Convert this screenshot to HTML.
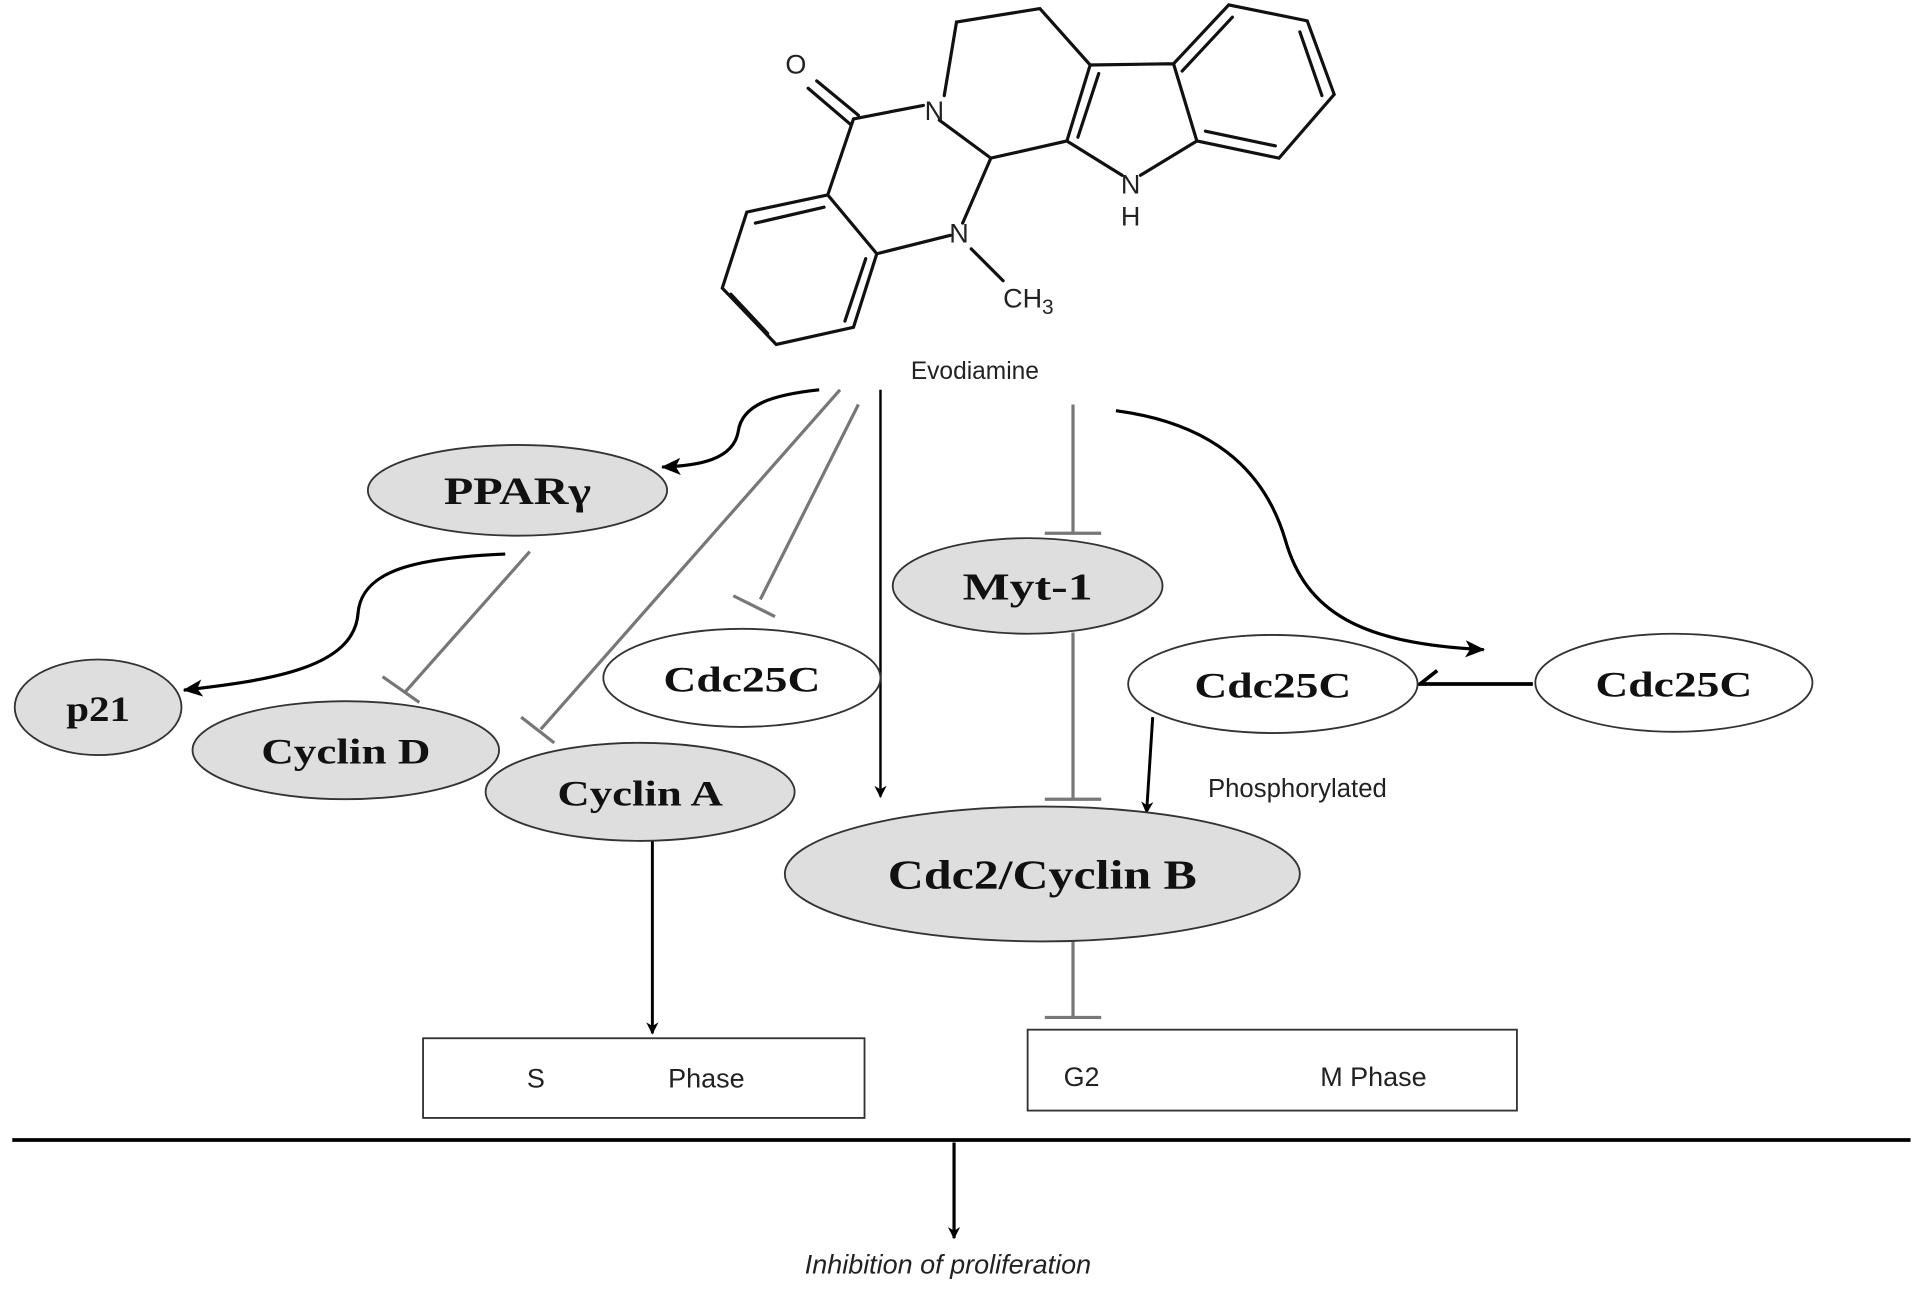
<!DOCTYPE html>
<html><head><meta charset="utf-8"><style>
html,body{margin:0;padding:0;background:#fff;}
svg{display:block;}
.n{font-family:"Liberation Serif",serif;font-weight:bold;fill:#111;}
.s{font-family:"Liberation Sans",sans-serif;fill:#222;}
</style></head><body>
<svg width="1913" height="1292" viewBox="0 0 1560 1054" preserveAspectRatio="none" xmlns="http://www.w3.org/2000/svg">
<defs>
<marker id="a" markerWidth="10" markerHeight="10" refX="9" refY="5" orient="auto" markerUnits="userSpaceOnUse"><path d="M0,0 L10,5 L0,10 L3,5 Z" fill="#000"/></marker>
<marker id="b" markerWidth="16" markerHeight="14" refX="15" refY="7" orient="auto" markerUnits="userSpaceOnUse"><path d="M0,0 L16,7 L0,14 L4,7 Z" fill="#000"/></marker>
</defs>
<!-- molecule -->
<g stroke="#111" stroke-width="2.6" fill="none" stroke-linecap="round">
<path d="M696,97 L753,86 M766,98 L808,129 M770,78 L780,18 L848,7 L889,53 L957,52 M889,53 L870,115 L808,129 L785,182 M870,115 L915,143 M930,143 L976,115 L957,52 L1002,4 L1066,17 L1088,77 L1043,129 L976,115 M696,97 L675,159 L715,207 L775,192 M715,207 L696,267 L633,281 L589,235 L609,173 L675,159 M792,203 L818,229"/>
<path d="M896,60 L879,112 M964,58 L1005,14 M1060,26 L1078,78 M1040,119 L983,107 M672,169 L616,182 M706,211 L689,262 M626,272 L596,240"/>
<path d="M700,94 L666,66 M693,101 L659,72"/>
</g>
<g class="s" font-size="22">
<text x="649" y="60" text-anchor="middle">O</text>
<text x="762" y="98" text-anchor="middle">N</text>
<text x="922" y="158" text-anchor="middle">N</text>
<text x="922" y="184" text-anchor="middle">H</text>
<text x="782" y="198" text-anchor="middle">N</text>
<text x="818" y="251">CH<tspan font-size="17" dy="5">3</tspan></text>
</g>
<text class="s" x="795" y="309" font-size="20" text-anchor="middle">Evodiamine</text>

<!-- connectors -->
<g fill="none" stroke-width="2.6">
<path d="M668,318 C630,322 605,330 602,352 C598,375 570,380 540,381" stroke="#000" marker-end="url(#b)"/>
<path d="M412,452 C340,455 295,465 292,500 C289,545 220,555 150,563" stroke="#000" marker-end="url(#b)"/>
<path d="M910,335 C985,345 1030,380 1048,440 C1065,500 1110,525 1210,530" stroke="#000" marker-end="url(#b)"/>
<path d="M718,318 L718,650" stroke="#000" stroke-width="2" marker-end="url(#a)"/>
<path d="M532,683 L532,843" stroke="#000" stroke-width="2.4" marker-end="url(#a)"/>
<path d="M940,585 L935,663" stroke="#000" stroke-width="2.4" marker-end="url(#a)"/>
<path d="M778,932 L778,1010" stroke="#000" stroke-width="2.6" marker-end="url(#a)"/>
<path d="M1250,558 L1158,558 L1172,547" stroke="#000" stroke-width="3"/>
<g stroke="#777" stroke-width="2.6">
<path d="M685,318 L441,595 M425,585 L452,606"/>
<path d="M700,330 L620,489 M598,486 L632,503"/>
<path d="M432,450 L330,565 M312,552 L342,573"/>
<path d="M875,330 L875,435 M852,435 L898,435"/>
<path d="M875,516 L875,652 M852,652 L898,652"/>
<path d="M875,768 L875,830 M852,830 L898,830"/>
</g>
<path d="M935,878 L1055,878" stroke="#000" stroke-width="1.5" stroke-dasharray="3,2" marker-end="url(#a)"/>
<path d="M10,930 L1558,930" stroke="#000" stroke-width="3"/>
</g>

<!-- nodes -->
<g stroke="#333" stroke-width="1.5">
<ellipse cx="422" cy="400" rx="122" ry="37" fill="#dedede"/>
<ellipse cx="838" cy="478" rx="110" ry="39" fill="#dedede"/>
<ellipse cx="605" cy="553" rx="113" ry="40" fill="#fff"/>
<ellipse cx="80" cy="577" rx="68" ry="39" fill="#dedede"/>
<ellipse cx="282" cy="612" rx="125" ry="40" fill="#dedede"/>
<ellipse cx="522" cy="646" rx="126" ry="40" fill="#dedede"/>
<ellipse cx="850" cy="713" rx="210" ry="55" fill="#dedede"/>
<ellipse cx="1038" cy="558" rx="118" ry="40" fill="#fff"/>
<ellipse cx="1365" cy="557" rx="113" ry="40" fill="#fff"/>
<rect x="345" y="847" width="360" height="65" fill="#fff"/>
<rect x="838" y="840" width="399" height="66" fill="#fff"/>
</g>
<g class="n" text-anchor="middle">
<text x="422" y="411" font-size="32" textLength="120" lengthAdjust="spacingAndGlyphs">PPARγ</text>
<text x="838" y="489" font-size="31" textLength="106" lengthAdjust="spacingAndGlyphs">Myt-1</text>
<text x="605" y="564" font-size="29" textLength="128" lengthAdjust="spacingAndGlyphs">Cdc25C</text>
<text x="80" y="588" font-size="29" textLength="52" lengthAdjust="spacingAndGlyphs">p21</text>
<text x="282" y="623" font-size="29" textLength="138" lengthAdjust="spacingAndGlyphs">Cyclin  D</text>
<text x="522" y="657" font-size="29" textLength="135" lengthAdjust="spacingAndGlyphs">Cyclin  A</text>
<text x="850" y="725" font-size="34" textLength="252" lengthAdjust="spacingAndGlyphs">Cdc2/Cyclin B</text>
<text x="1038" y="569" font-size="29" textLength="128" lengthAdjust="spacingAndGlyphs">Cdc25C</text>
<text x="1365" y="568" font-size="29" textLength="128" lengthAdjust="spacingAndGlyphs">Cdc25C</text>
</g>
<g class="s" font-size="22">
<text x="437" y="887" text-anchor="middle">S</text>
<text x="576" y="887" text-anchor="middle">Phase</text>
<text x="882" y="886" text-anchor="middle">G2</text>
<text x="1120" y="886" text-anchor="middle">M Phase</text>
<text x="1058" y="650" text-anchor="middle" font-size="21">Phosphorylated</text>
<text x="773" y="1039" text-anchor="middle" font-style="italic">Inhibition of proliferation</text>
</g>
</svg>
</body></html>
